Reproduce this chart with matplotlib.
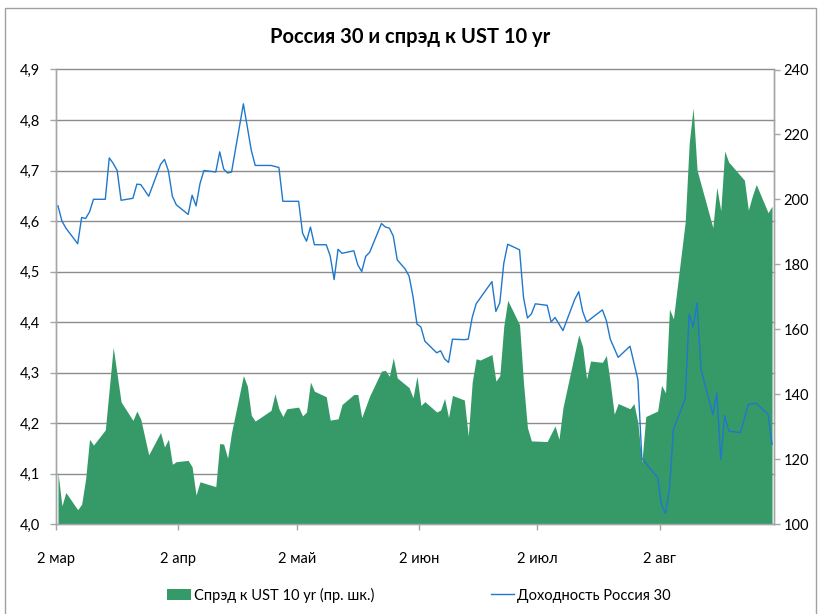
import matplotlib
matplotlib.use("Agg")
import matplotlib.pyplot as plt
import matplotlib.transforms as mtransforms
from matplotlib.patches import Patch, Rectangle
from matplotlib.lines import Line2D
import pandas as pd

plt.rcParams["font.family"] = ["Lato", "DejaVu Sans"]

YEAR = "2011"

# Доходность Россия 30 (левая шкала)
YIELD_DATES = [
    "03-02", "03-03", "03-04", "03-07", "03-08", "03-09", "03-10", "03-11",
    "03-14", "03-15", "03-16", "03-17", "03-18", "03-21", "03-22", "03-23",
    "03-25", "03-28", "03-29", "03-30", "03-31", "04-01", "04-04", "04-05",
    "04-06", "04-07", "04-08", "04-11", "04-12", "04-13", "04-14", "04-15",
    "04-18", "04-20", "04-21", "04-25", "04-27", "04-28", "05-02", "05-03",
    "05-04", "05-05", "05-06", "05-09", "05-10", "05-11", "05-12", "05-13",
    "05-16", "05-17", "05-18", "05-19", "05-20", "05-23", "05-24", "05-25",
    "05-26", "05-27", "05-29", "05-30", "05-31", "06-01", "06-02", "06-03",
    "06-06", "06-07", "06-08", "06-09", "06-10", "06-13", "06-14", "06-15",
    "06-16", "06-17", "06-20", "06-21", "06-22", "06-23", "06-24", "06-27",
    "06-28", "06-29", "06-30", "07-01", "07-04", "07-05", "07-06", "07-08",
    "07-11", "07-12", "07-13", "07-14", "07-18", "07-19", "07-20", "07-22",
    "07-25", "07-27", "07-28", "08-01", "08-02", "08-03", "08-04", "08-05",
    "08-08", "08-09", "08-10", "08-11", "08-12", "08-15", "08-16", "08-17",
    "08-18", "08-19", "08-22", "08-24", "08-26", "08-29", "08-30",
]
YIELD_VALUES = [
    4.630, 4.600, 4.586, 4.555, 4.607, 4.605, 4.618, 4.643,
    4.643, 4.725, 4.714, 4.700, 4.641, 4.645, 4.673, 4.672,
    4.649, 4.712, 4.722, 4.699, 4.649, 4.632, 4.613, 4.651,
    4.630, 4.674, 4.700, 4.697, 4.737, 4.703, 4.695, 4.697,
    4.832, 4.740, 4.710, 4.710, 4.706, 4.639, 4.639, 4.576,
    4.560, 4.588, 4.553, 4.553, 4.531, 4.484, 4.544, 4.536,
    4.541, 4.513, 4.500, 4.530, 4.538, 4.595, 4.588, 4.586,
    4.570, 4.523, 4.505, 4.491, 4.450, 4.396, 4.390, 4.362,
    4.339, 4.343, 4.327, 4.320, 4.366, 4.365, 4.366, 4.409,
    4.436, 4.447, 4.480, 4.421, 4.438, 4.516, 4.554, 4.543,
    4.449, 4.408, 4.416, 4.436, 4.433, 4.400, 4.409, 4.383,
    4.445, 4.460, 4.421, 4.400, 4.424, 4.403, 4.366, 4.330,
    4.352, 4.286, 4.130, 4.092, 4.037, 4.021, 4.069, 4.187,
    4.248, 4.416, 4.390, 4.438, 4.306, 4.217, 4.259, 4.128,
    4.215, 4.184, 4.181, 4.237, 4.239, 4.217, 4.158,
]

# Спрэд к UST 10 yr, б.п. (правая шкала)
SPREAD_DATES = [
    "03-02", "03-03", "03-04", "03-07", "03-08", "03-09", "03-10", "03-11",
    "03-14", "03-16", "03-18", "03-21", "03-22", "03-23", "03-25", "03-28",
    "03-29", "03-30", "03-31", "04-01", "04-04", "04-05", "04-06", "04-07",
    "04-11", "04-12", "04-13", "04-14", "04-15", "04-18", "04-19", "04-20",
    "04-21", "04-25", "04-26", "04-27", "04-28", "04-29", "05-02", "05-03",
    "05-04", "05-05", "05-06", "05-09", "05-10", "05-12", "05-13", "05-16",
    "05-17", "05-18", "05-20", "05-23", "05-24", "05-25", "05-26", "05-27",
    "05-30", "05-31", "06-01", "06-02", "06-03", "06-06", "06-07", "06-08",
    "06-09", "06-10", "06-13", "06-14", "06-15", "06-16", "06-17", "06-20",
    "06-21", "06-22", "06-23", "06-24", "06-27", "06-28", "06-29", "06-30",
    "07-04", "07-06", "07-07", "07-08", "07-12", "07-13", "07-14", "07-15",
    "07-18", "07-19", "07-20", "07-21", "07-22", "07-25", "07-26", "07-27",
    "07-28", "07-29", "08-01", "08-02", "08-03", "08-04", "08-05", "08-08",
    "08-09", "08-10", "08-11", "08-15", "08-16", "08-17", "08-18", "08-19",
    "08-23", "08-24", "08-25", "08-26", "08-29", "08-30",
]
SPREAD_VALUES = [
    115.9, 105.6, 109.7, 104.4, 106.1, 113.8, 126.1, 124.3,
    129.0, 154.4, 137.6, 131.9, 134.8, 132.2, 121.3, 128.2,
    123.7, 126.1, 118.4, 119.2, 119.6, 117.6, 108.9, 113.0,
    111.5, 124.8, 124.6, 120.3, 128.2, 145.7, 142.5, 133.5,
    131.7, 135.0, 140.1, 135.5, 133.1, 135.5, 136.0, 133.3,
    134.5, 143.7, 140.9, 139.2, 132.0, 132.4, 136.8, 139.9,
    139.9, 132.8, 139.4, 147.1, 147.3, 145.5, 151.2, 145.0,
    142.0, 138.9, 145.5, 136.5, 137.7, 134.5, 135.1, 138.7,
    132.8, 139.6, 138.2, 127.1, 143.7, 150.9, 150.5, 152.2,
    144.0, 145.7, 160.9, 168.9, 161.4, 143.5, 129.7, 125.6,
    125.4, 130.2, 126.1, 135.8, 158.3, 154.6, 144.7, 150.2,
    149.8, 151.9, 143.5, 133.8, 137.1, 135.5, 137.1, 131.2,
    118.9, 133.1, 134.8, 142.7, 140.4, 166.2, 163.2, 193.1,
    217.2, 228.2, 209.0, 191.3, 203.7, 196.5, 214.9, 211.5,
    205.9, 196.7, 201.0, 204.6, 195.9, 197.9,
]

X_TICKS = ["03-02", "04-02", "05-02", "06-02", "07-02", "08-02"]
X_TICK_LABELS = ["2 мар", "2 апр", "2 май", "2 июн", "2 июл", "2 авг"]
X_START, X_END = "03-02", "08-31"

LEFT_TICKS = [4.0, 4.1, 4.2, 4.3, 4.4, 4.5, 4.6, 4.7, 4.8, 4.9]
RIGHT_TICKS = [100, 120, 140, 160, 180, 200, 220, 240]

GREEN = "#369A68"
BLUE = "#1F78CC"
GRID = "#8C8C8C"
AXIS = "#A6A6A6"


def to_dates(days, noon=False):
    d = pd.to_datetime([f"{YEAR}-{s}" for s in days])
    if noon:
        d = d + pd.Timedelta(hours=12)
    return d


fig = plt.figure(figsize=(8.21, 6.14), dpi=100)
W, H = 821, 614
ax = fig.add_axes([56 / W, 1 - 524 / H, (774 - 56) / W, (524 - 69.5) / H])
ax_line = ax.twinx()

# площадь — спрэд (правая шкала)
sd = to_dates(SPREAD_DATES, noon=True)
ax.fill_between(sd, SPREAD_VALUES, 100, color=GREEN, linewidth=0, zorder=3)
ax.set_ylim(100, 240)
ax.yaxis.tick_right()
ax.set_yticks(RIGHT_TICKS)
ax.set_yticklabels([str(v) for v in RIGHT_TICKS])

# линия — доходность (левая шкала)
yd = to_dates(YIELD_DATES, noon=True)
ax_line.plot(yd, YIELD_VALUES, color=BLUE, linewidth=1.0, zorder=4)
ax_line.set_ylim(4.0, 4.9)
ax_line.yaxis.tick_left()
ax_line.set_yticks(LEFT_TICKS)
ax_line.set_yticklabels([f"{v:.1f}".replace(".", ",") for v in LEFT_TICKS])

# сетка по левой шкале, под площадью
blend = mtransforms.blended_transform_factory(ax.transAxes, ax_line.transData)
for v in LEFT_TICKS[1:]:
    ax.plot([0, 1], [v, v], transform=blend, color=GRID, linewidth=1.0,
            zorder=1, clip_on=False)

x0, x1 = to_dates([X_START, X_END])
ax.set_xlim(x0, x1)
ax.set_xticks(to_dates(X_TICKS))
ax.set_xticklabels(X_TICK_LABELS)

for a in (ax, ax_line):
    a.spines["top"].set_visible(False)
    for s in ("left", "right", "bottom"):
        a.spines[s].set_color(AXIS)
        a.spines[s].set_linewidth(1.0)
    a.tick_params(colors=AXIS, labelcolor="black", labelsize=10.5, width=1.0)

ax.tick_params(axis="x", direction="out", length=4, pad=16)
ax.tick_params(axis="y", direction="out", length=4, pad=3)
ax_line.tick_params(axis="y", direction="out", length=4, pad=7.5)

fig.text(0.5, 1 - 37 / H, "Россия 30 и спрэд к UST 10 yr", ha="center",
         va="center", fontsize=14.5, fontweight="bold")

handles = [Patch(facecolor=GREEN, edgecolor="none"),
           Line2D([], [], color=BLUE, linewidth=1.0)]
labels = ["Спрэд к UST 10 yr (пр. шк.)", "Доходность Россия 30"]
fig.legend(handles, labels, loc="center", bbox_to_anchor=(419 / W, 1 - 595 / H),
           ncol=2, frameon=False, fontsize=10.5, handlelength=1.6,
           handleheight=0.7, handletextpad=0.2, columnspacing=8.0)

fig.patches.append(Rectangle((5 / W, -0.01), (816 - 5) / W, 1.01 - 8 / H,
                             transform=fig.transFigure, fill=False,
                             edgecolor="#A0A0A0", linewidth=1.0))

fig.savefig("out.png", dpi=100)
